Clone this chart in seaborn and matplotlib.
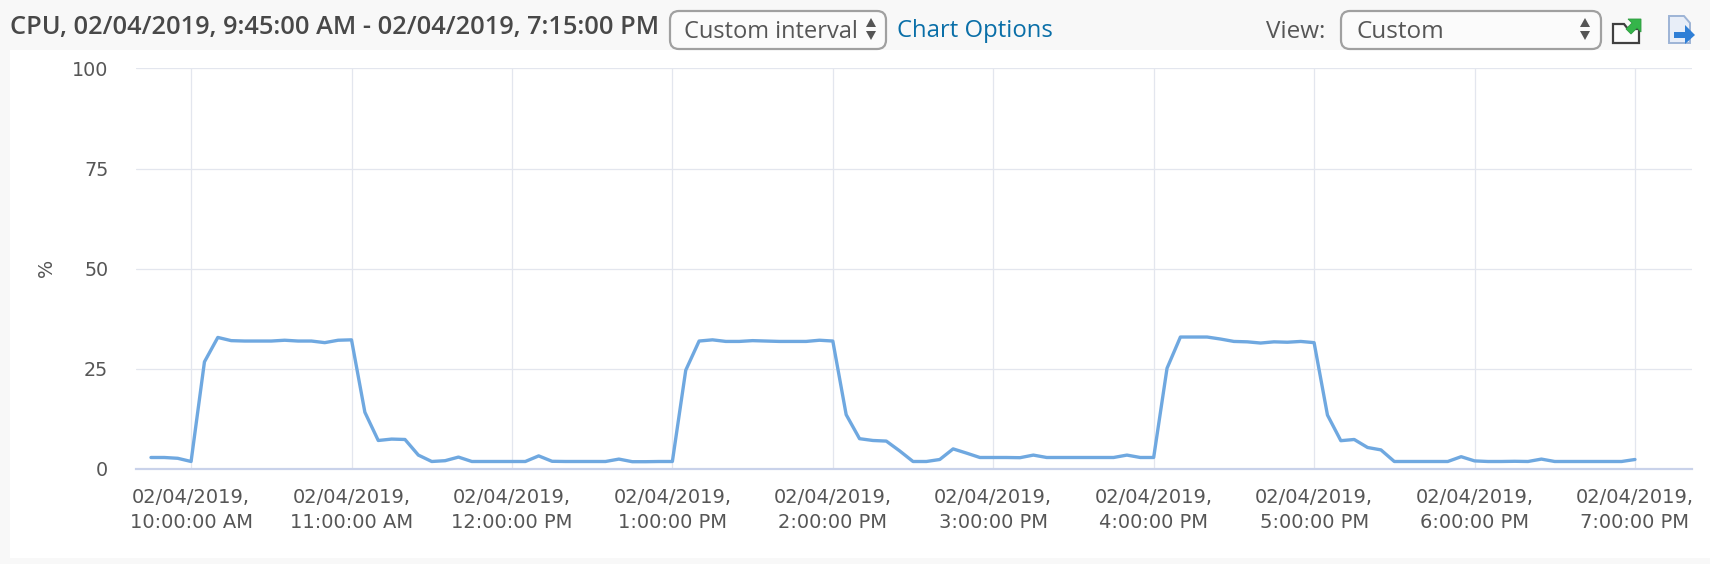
import matplotlib
matplotlib.use("Agg")
import matplotlib.pyplot as plt
from matplotlib.patches import FancyBboxPatch, Rectangle, Polygon
from matplotlib.transforms import Affine2D
import pandas as pd
import seaborn as sns

W, H = 1710, 564

start_time = "2019-02-04 09:45"
sample_minutes = 5
cpu_0945 = [2.8, 2.8, 2.6]
cpu_10 = [1.8, 26.7, 32.8, 32.0, 31.9, 31.9, 31.9, 32.1, 31.9, 31.9, 31.5, 32.1]
cpu_11 = [32.2, 14.1, 7.05, 7.4, 7.3, 3.4, 1.8, 2.0, 2.9, 1.8, 1.8, 1.8]
cpu_12 = [1.8, 1.8, 3.2, 1.85, 1.8, 1.8, 1.8, 1.8, 2.4, 1.75, 1.75, 1.8]
cpu_13 = [1.8, 24.6, 31.9, 32.2, 31.8, 31.8, 32.0, 31.9, 31.8, 31.8, 31.8, 32.1]
cpu_14 = [31.9, 13.5, 7.5, 7.05, 6.9, 4.45, 1.8, 1.8, 2.3, 4.95, 3.9, 2.8]
cpu_15 = [2.8, 2.8, 2.75, 3.4, 2.8, 2.8, 2.8, 2.8, 2.8, 2.8, 3.4, 2.8]
cpu_16 = [2.8, 25.1, 32.9, 32.9, 32.9, 32.4, 31.8, 31.7, 31.4, 31.7, 31.6, 31.8]
cpu_17 = [31.5, 13.4, 7.0, 7.3, 5.3, 4.7, 1.8, 1.8, 1.8, 1.8, 1.8, 3.0]
cpu_18 = [1.95, 1.8, 1.8, 1.85, 1.8, 2.4, 1.8, 1.8, 1.8, 1.8, 1.8, 1.8]
cpu_19 = [2.3]
hour_ticks = pd.date_range("2019-02-04 10:00", "2019-02-04 19:00", freq="h")
hour_labels = ["02/04/2019,\n10:00:00 AM", "02/04/2019,\n11:00:00 AM", "02/04/2019,\n12:00:00 PM",
               "02/04/2019,\n1:00:00 PM", "02/04/2019,\n2:00:00 PM", "02/04/2019,\n3:00:00 PM",
               "02/04/2019,\n4:00:00 PM", "02/04/2019,\n5:00:00 PM", "02/04/2019,\n6:00:00 PM",
               "02/04/2019,\n7:00:00 PM"]
y_ticks = [0, 25, 50, 75, 100]

cpu = cpu_0945 + cpu_10 + cpu_11 + cpu_12 + cpu_13 + cpu_14 + cpu_15 + cpu_16 + cpu_17 + cpu_18 + cpu_19
df = pd.DataFrame({"time": pd.date_range(start_time, periods=len(cpu), freq=f"{sample_minutes}min"), "cpu": cpu})

sns.set_theme(style="white")
plt.rcParams["font.family"] = ["DejaVu Sans"]
fig = plt.figure(figsize=(W / 100, H / 100), dpi=100, facecolor="#f8f8f8")
px = Affine2D().scale(1 / W, -1 / H).translate(0, 1) + fig.transFigure

fig.add_artist(Rectangle((10, 50), W - 10, 508, transform=px, fc="white", ec="none", zorder=-5))

ax = fig.add_axes([136 / W, 1 - 468.7 / H, (1692 - 136) / W, 400.2 / H])
ax.patch.set_alpha(0)
sns.lineplot(data=df, x="time", y="cpu", ax=ax, color="#6fa8e0", linewidth=2.4, zorder=3)

ax.set_xlim(pd.Timestamp("2019-02-04 09:39:24"), pd.Timestamp("2019-02-04 19:21:20"))
ax.set_ylim(0, 100)
ax.set_xticks(hour_ticks)
ax.set_xticklabels(hour_labels, linespacing=1.36)
ax.set_yticks(y_ticks)
ax.grid(True, color="#e3e6ee", linewidth=0.9)
ax.set_axisbelow(True)
for s in ("top", "right", "left"):
    ax.spines[s].set_visible(False)
ax.spines["bottom"].set_color("#c9d2ea")
ax.spines["bottom"].set_linewidth(1.6)
ax.tick_params(axis="x", length=12, width=1.2, color="#c9d2ea", labelsize=14, labelcolor="#565656", pad=2)
ax.tick_params(axis="y", length=0, labelsize=13.8, labelcolor="#565656", pad=20)
ax.set_xlabel("")
ax.set_ylabel("")
fig.text(46 / W, 1 - 268 / H, "%", rotation=90, ha="center", va="center", fontsize=13.8, color="#565656")

# header
hf = "Open Sans"
def label(x, y, text, **kw):
    fig.text(x / W, 1 - y / H, text, va="center", family=hf, zorder=5, **kw)

label(10, 27.5, "CPU, 02/04/2019, 9:45:00 AM - 02/04/2019, 7:15:00 PM", fontsize=18.25, weight="semibold", color="#484848")
label(684, 32, "Custom interval", fontsize=17.0, color="#565656")
label(897, 31, "Chart Options", fontsize=17.2, color="#0a6fa8")
label(1266, 32, "View:", fontsize=17.5, color="#565656")
label(1356, 32, "Custom", fontsize=17.5, color="#565656")

for x0, x1 in ((670, 886), (1341, 1601)):
    fig.add_artist(FancyBboxPatch((x0 + 8, 19), x1 - x0 - 16, 22, boxstyle="round,pad=8,rounding_size=9",
                                  transform=px, fc="#fbfbfb", ec="#a0a0a0", lw=1.6, mutation_aspect=1))
for cx in (871, 1585):
    fig.add_artist(Polygon([(cx - 5, 27), (cx + 5, 27), (cx, 18)], transform=px, fc="#555555", ec="none"))
    fig.add_artist(Polygon([(cx - 5, 31), (cx + 5, 31), (cx, 40)], transform=px, fc="#555555", ec="none"))

# toolbar icons
fig.add_artist(Polygon([(1613, 24), (1624, 24), (1628, 29), (1639, 29), (1639, 43), (1613, 43)], closed=True,
                       transform=px, fc="#fbfbfb", ec="#3f3f3f", lw=1.6))
fig.add_artist(Polygon([(1628, 19), (1641, 19), (1641, 32), (1637, 28), (1631, 34), (1626, 29), (1632, 23)],
                       closed=True, transform=px, fc="#35b54a", ec="#2f9a40", lw=0.6))
fig.add_artist(Polygon([(1669, 16), (1684, 16), (1690, 23), (1690, 43), (1669, 43)], closed=True,
                       transform=px, fc="#e8eef8", ec="#9db4d6", lw=1.4))
fig.add_artist(Polygon([(1674, 32), (1685, 32), (1685, 25), (1695, 35), (1685, 44), (1685, 38), (1674, 38)],
                       closed=True, transform=px, fc="#2f7fd6", ec="none"))

fig.savefig("out.png", dpi=100, facecolor=fig.get_facecolor())
